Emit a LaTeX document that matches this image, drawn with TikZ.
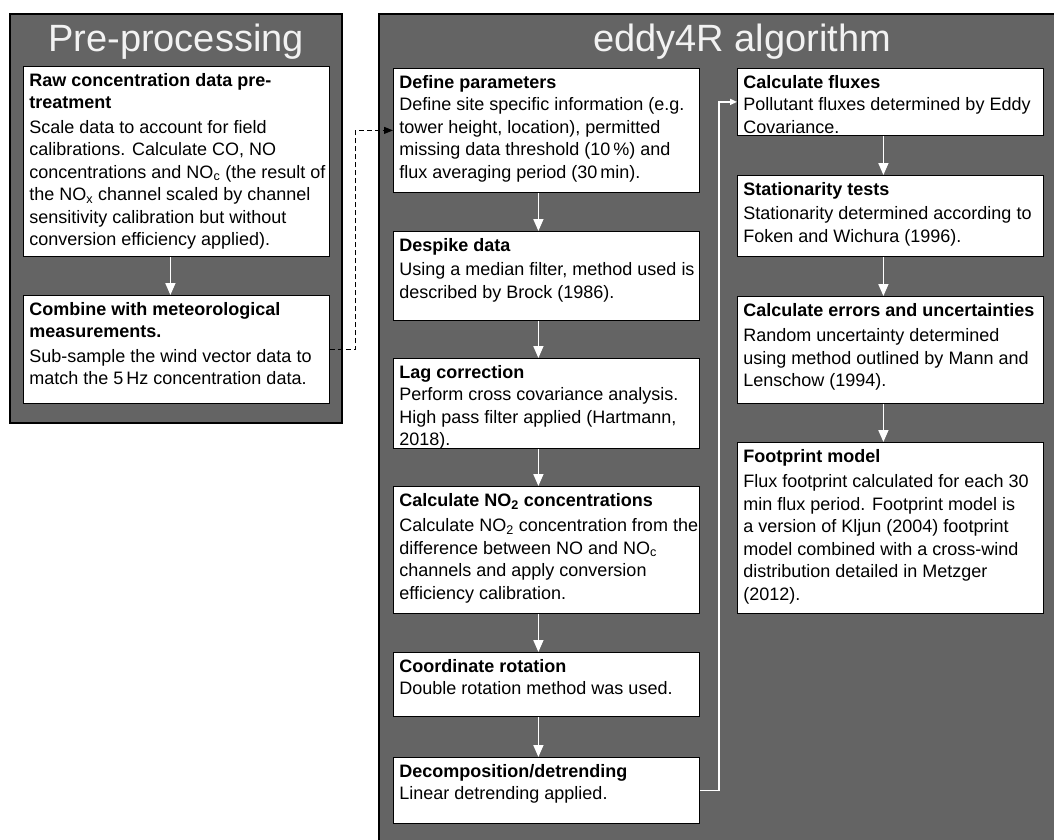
\documentclass[tikz,border=0pt]{standalone}
\usepackage{fontspec}
\setmainfont{Liberation Sans}
\usetikzlibrary{arrows.meta}
\definecolor{panelgray}{HTML}{646464}
\definecolor{titlegray}{HTML}{F2F2F2}
\newcommand{\hd}[1]{\textbf{#1}}
\newcommand{\stagetext}[2]{\parbox[t][#1][t]{294pt}{\begin{tabular}[t]{@{}l@{}}#2\end{tabular}}}
\tikzset{
  panel/.style={fill=panelgray, draw=black, line width=1.2pt},
  paneltitle/.style={text=titlegray, font=\fontsize{38}{40}\selectfont, anchor=base, inner sep=0pt},
  stage/.style={draw=black, fill=white, line width=0.8pt, anchor=north west,
    minimum width=306pt, inner xsep=0pt, inner ysep=4pt, font=\fontsize{18}{22.5}\selectfont},
  flow/.style={draw=white, line width=1.6pt, -{Triangle[width=10pt,length=12pt]}},
  feed/.style={draw=black, line width=1pt, dash pattern=on 5pt off 3pt, -{Triangle[width=7pt,length=9pt]}},
  jump/.style={draw=white, line width=1.5pt, -{Triangle[width=6pt,length=7pt]}}
}
\begin{document}
\begin{tikzpicture}[x=1pt,y=-1pt]
  \useasboundingbox (0,0) rectangle (1054,839);
  \draw[panel] (10,14) rectangle (342,423);
  \draw[panel] (379,14) rectangle (1062,847);
  \node[paneltitle] (pretitle) at (176,51) {Pre-processing};
  \node[paneltitle] (eddytitle) at (742,51) {eddy4R algorithm};

  \node[stage] (raw) at (23,66) {\stagetext{182pt}{%
    \hd{Raw concentration data pre-}\\
    \hd{treatment}\\[2pt]
    Scale data to account for field\\
    calibrations. Calculate CO, NO\\
    concentrations and NO\textsubscript{c} (the result of\\
    the NO\textsubscript{x} channel scaled by channel\\
    sensitivity calibration but without\\
    conversion efficiency applied).}};
  \node[stage] (combine) at (23,295) {\stagetext{100pt}{%
    \hd{Combine with meteorological}\\
    \hd{measurements.}\\[2pt]
    Sub-sample the wind vector data to\\
    match the 5\,Hz concentration data.}};

  \node[stage] (define) at (393,68) {\stagetext{116pt}{%
    \hd{Define parameters}\\
    Define site specific information (e.g.\\
    tower height, location), permitted\\
    missing data threshold (10\,\%) and\\
    flux averaging period (30\,min).}};
  \node[stage] (despike) at (393,231) {\stagetext{81pt}{%
    \hd{Despike data}\\[2pt]
    Using a median filter, method used is\\
    described by Brock (1986).}};
  \node[stage] (lag) at (393,358) {\stagetext{82pt}{%
    \hd{Lag correction}\\
    Perform cross covariance analysis.\\
    High pass filter applied (Hartmann,\\
    2018).}};
  \node[stage] (notwo) at (393,486) {\stagetext{119pt}{%
    \hd{Calculate NO\textsubscript{2} concentrations}\\[3pt]
    Calculate NO\textsubscript{2} concentration from the\\
    difference between NO and NO\textsubscript{c}\\
    channels and apply conversion\\
    efficiency calibration.}};
  \node[stage] (rotation) at (393,652) {\stagetext{56pt}{%
    \hd{Coordinate rotation}\\
    Double rotation method was used.}};
  \node[stage] (detrend) at (393,757) {\stagetext{58pt}{%
    \hd{Decomposition/detrending}\\
    Linear detrending applied.}};

  \node[stage] (fluxes) at (737,68) {\stagetext{59pt}{%
    \hd{Calculate fluxes}\\
    Pollutant fluxes determined by Eddy\\
    Covariance.}};
  \node[stage] (station) at (737,175) {\stagetext{73pt}{%
    \hd{Stationarity tests}\\[2pt]
    Stationarity determined according to\\
    Foken and Wichura (1996).}};
  \node[stage] (errors) at (737,296) {\stagetext{99pt}{%
    \hd{Calculate errors and uncertainties}\\[3pt]
    Random uncertainty determined\\
    using method outlined by Mann and\\
    Lenschow (1994).}};
  \node[stage] (footprint) at (737,442) {\stagetext{163pt}{%
    \hd{Footprint model}\\[3pt]
    Flux footprint calculated for each 30\\
    min flux period. Footprint model is\\
    a version of Kljun (2004) footprint\\
    model combined with a cross-wind\\
    distribution detailed in Metzger\\
    (2012).}};

  \draw[flow] ([xshift=-6pt]raw.south) -- ([xshift=-6pt]combine.north);
  \draw[flow] ([xshift=-8pt]define.south) -- ([xshift=-8pt]despike.north);
  \draw[flow] ([xshift=-8pt]despike.south) -- ([xshift=-8pt]lag.north);
  \draw[flow] ([xshift=-8pt]lag.south) -- ([xshift=-8pt]notwo.north);
  \draw[flow] ([xshift=-8pt]notwo.south) -- ([xshift=-8pt]rotation.north);
  \draw[flow] ([xshift=-8pt]rotation.south) -- ([xshift=-8pt]detrend.north);
  \draw[flow] ([xshift=-7pt]fluxes.south) -- ([xshift=-7pt]station.north);
  \draw[flow] ([xshift=-7pt]station.south) -- ([xshift=-7pt]errors.north);
  \draw[flow] ([xshift=-7pt]errors.south) -- ([xshift=-7pt]footprint.north);
  \draw[feed] (combine.east) -- ++(26,0) |- (define.west);
  \draw[jump] (detrend.east) -- ++(19,0) |- (fluxes.west);
\end{tikzpicture}
\end{document}
